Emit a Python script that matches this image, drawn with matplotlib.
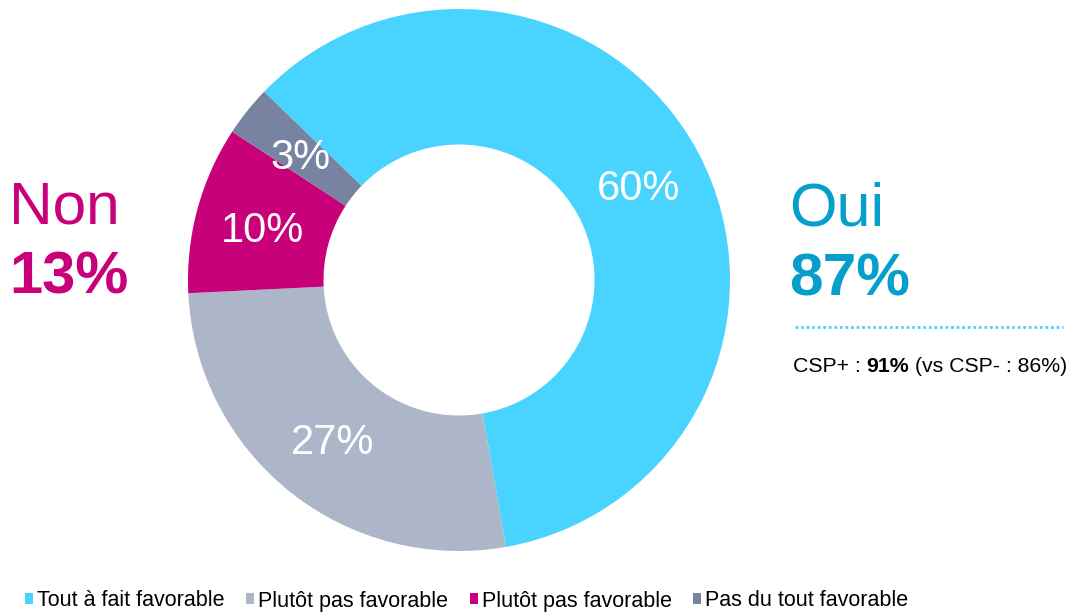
import matplotlib.pyplot as plt
from matplotlib.lines import Line2D

plt.rcParams['font.family'] = ['Liberation Sans', 'DejaVu Sans']

# data
values = [60, 27, 10, 3]
pct_labels = ['60%', '27%', '10%', '3%']
legend_labels = ['Tout à fait favorable', 'Plutôt pas favorable',
                 'Plutôt pas favorable', 'Pas du tout favorable']
colors = ['#48D4FE', '#ADB5C8', '#C8007A', '#7783A0']
oui_pct = '87%'
non_pct = '13%'
csp_parts = [('CSP+ : ', 'normal'), ('91%', 'bold'), (' (vs CSP- : 86%)', 'normal')]

W, H = 1072, 612
fig = plt.figure(figsize=(W / 100, H / 100), dpi=100)

# donut
cx, cy, r = 459, 280, 271
ax = fig.add_axes([(cx - r) / W, (H - cy - r) / H, 2 * r / W, 2 * r / H])
wedges, texts = ax.pie(values, labels=pct_labels, colors=colors,
                       startangle=136, counterclock=False, radius=1,
                       labeldistance=0.75,
                       wedgeprops=dict(width=0.5, edgecolor='none'),
                       textprops=dict(color='white', fontsize=30,
                                      ha='center', va='center_baseline'))
ax.set_xlim(-1, 1)
ax.set_ylim(-1, 1)
ax.set_aspect('equal')
ax.axis('off')

# side labels
oui_col = '#069FCC'
non_col = '#C8007A'
fig.text(9 / W, 1 - 208 / H, 'Non', color=non_col, fontsize=43.5, va='center', ha='left')
fig.text(9 / W, 1 - 278 / H, non_pct, color=non_col, fontsize=43, fontweight='bold',
         va='center', ha='left')
fig.text(789 / W, 1 - 210 / H, 'Oui', color=oui_col, fontsize=44, va='center', ha='left')
fig.text(789 / W, 1 - 280 / H, oui_pct, color=oui_col, fontsize=43.5, fontweight='bold',
         va='center', ha='left')

fig.add_artist(Line2D([795 / W, 1063 / W], [1 - 327 / H, 1 - 327 / H],
                      transform=fig.transFigure, color='#48D4FE',
                      linestyle=(0, (1, 1)), linewidth=2))

# mixed-weight line, piece by piece
fig.canvas.draw()
renderer = fig.canvas.get_renderer()
x = 793
for s, w in csp_parts:
    tt = fig.text(x / W, 1 - 367 / H, s, fontsize=15.3, fontweight=w,
                  va='center', ha='left')
    x += tt.get_window_extent(renderer).width

# legend
fig.legend(wedges, legend_labels, loc='center left',
           bbox_to_anchor=(25 / W, 1 - 601 / H), ncol=4, frameon=False,
           fontsize=15.5, handlelength=0.38, handleheight=0.38,
           handletextpad=0.18, columnspacing=1.0, borderpad=0, borderaxespad=0)

fig.savefig('out.png', dpi=100)
